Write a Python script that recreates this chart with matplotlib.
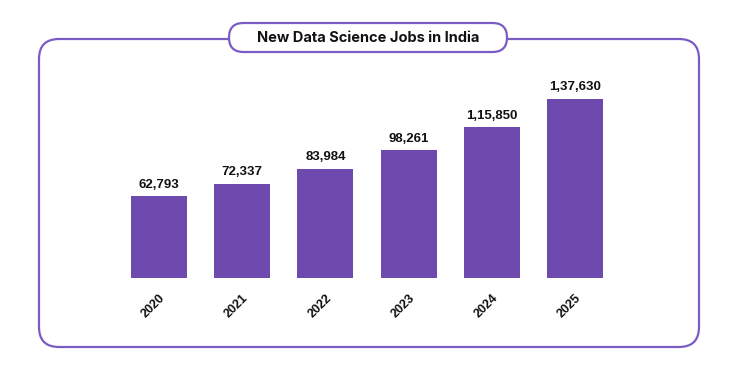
import matplotlib.pyplot as plt
from matplotlib.patches import FancyBboxPatch

years = ['2020', '2021', '2022', '2023', '2024', '2025']
jobs = [62793, 72337, 83984, 98261, 115850, 137630]
value_labels = ['62,793', '72,337', '83,984', '98,261', '1,15,850', '1,37,630']
title = 'New Data Science Jobs in India'

W, H = 738, 369
bar_color = '#6f4aae'
line_color = '#7b5cc4'

fig = plt.figure(figsize=(W / 100, H / 100), dpi=100)

# frame layer in pixel coordinates
bg = fig.add_axes([0, 0, 1, 1])
bg.set_xlim(0, W)
bg.set_ylim(H, 0)
bg.axis('off')
bg.add_patch(FancyBboxPatch((39, 39), 660, 308,
                            boxstyle='round,pad=0,rounding_size=20',
                            fc='white', ec=line_color, lw=1.6))
bg.add_patch(FancyBboxPatch((229, 23), 278, 29,
                            boxstyle='round,pad=0,rounding_size=14.5',
                            fc='white', ec=line_color, lw=1.6, zorder=3))
bg.text(368, 38, title, ha='center', va='center', fontsize=10.5,
        fontweight='bold', family='Inter', color='#111111', zorder=4)

# bar chart
left, right = 117.4, 616.6
bottom, top = 278, 80
ax = fig.add_axes([left / W, (H - bottom) / H, (right - left) / W, (bottom - top) / H])
ax.patch.set_alpha(0)
bars = ax.bar(range(len(years)), jobs, width=0.673, color=bar_color)
ax.set_xlim(-0.5, len(years) - 0.5)
ax.set_ylim(0, 137630 * (bottom - top) / 179)
ax.bar_label(bars, labels=value_labels, padding=4, fontsize=9.5,
             fontweight='bold', family='Liberation Sans', color='#111111')
ax.set_xticks(range(len(years)))
ax.set_xticklabels(years, rotation=45, ha='right', va='top',
                   rotation_mode='anchor', fontsize=9, fontweight='bold',
                   family='Liberation Sans', color='#111111')
ax.tick_params(axis='x', length=0, pad=10)
ax.set_yticks([])
for s in ax.spines.values():
    s.set_visible(False)

fig.savefig('out.png', dpi=100)
